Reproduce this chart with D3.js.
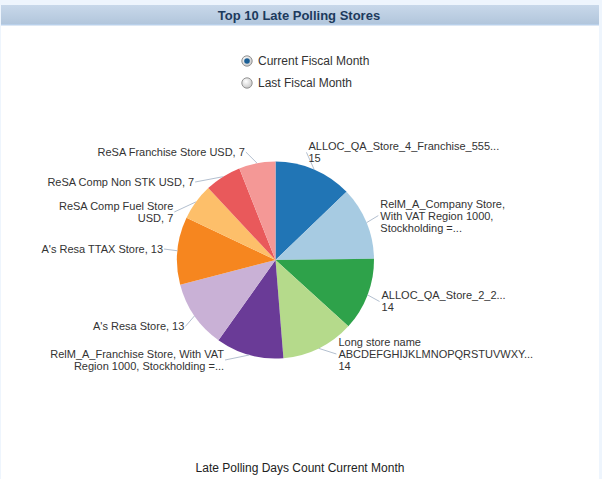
<!DOCTYPE html>
<html>
<head>
<meta charset="utf-8">
<script src="https://cdn.jsdelivr.net/npm/d3@7"></script>
<style>
  html, body { margin: 0; padding: 0; background: #eef5fd; }
  svg { display: block; }
  text { font-family: "Liberation Sans", Arial, sans-serif; }
</style>
</head>
<body>
<svg id="chart" width="602" height="479"></svg>
<script>
// ---- data ----
const titleText = "Top 10 Late Polling Stores";
const radioOptions = ["Current Fiscal Month", "Last Fiscal Month"];
const footerText = "Late Polling Days Count Current Month";
const storeLabels = [
  ["ALLOC_QA_Store_4_Franchise_555...", "15"],
  ["RelM_A_Company Store,", "With VAT Region 1000,", "Stockholding =..."],
  ["ALLOC_QA_Store_2_2...", "14"],
  ["Long store name", "ABCDEFGHIJKLMNOPQRSTUVWXY...", "14"],
  ["RelM_A_Franchise Store, With VAT", "Region 1000, Stockholding =..."],
  ["A's Resa Store, 13"],
  ["A's Resa TTAX Store, 13"],
  ["ReSA Comp Fuel Store", "USD, 7"],
  ["ReSA Comp Non STK USD, 7"],
  ["ReSA Franchise Store USD, 7"]
];
const storeValues = [15, 14, 14, 14, 13, 13, 13, 7, 7, 7];
const sliceColors = ["#2175b5", "#a7cbe2", "#2ea24a", "#b5da8b", "#6a3b97",
                     "#c9b1d6", "#f6861f", "#fdbf6a", "#e9595b", "#f49896"];

// ---- layout ----
const W = 602, H = 479;
const svg = d3.select("#chart");
const defs = svg.append("defs");

// panel
svg.append("rect").attr("x", 1).attr("y", 5).attr("width", 598).attr("height", H - 5).attr("fill", "#fff");
const grad = defs.append("linearGradient").attr("id", "hdr").attr("x1", 0).attr("y1", 0).attr("x2", 0).attr("y2", 1);
grad.append("stop").attr("offset", "0%").attr("stop-color", "#c8d8ea");
grad.append("stop").attr("offset", "100%").attr("stop-color", "#b2c6dc");
svg.append("rect").attr("x", 1).attr("y", 5).attr("width", 598).attr("height", 19).attr("fill", "url(#hdr)");
svg.append("rect").attr("x", 1).attr("y", 24).attr("width", 598).attr("height", 1.5).attr("fill", "#b9d0ea");
svg.append("text").attr("x", 299).attr("y", 15).attr("text-anchor", "middle").attr("dominant-baseline", "central")
  .attr("font-size", 13).attr("font-weight", "bold").attr("fill", "#1c3a5d").text(titleText);

// radio buttons
const rg = svg.append("g");
radioOptions.forEach((opt, i) => {
  const y = 61 + i * 22;
  const rgrad = defs.append("radialGradient").attr("id", "rb" + i).attr("cx", "40%").attr("cy", "35%").attr("r", "70%");
  rgrad.append("stop").attr("offset", "0%").attr("stop-color", "#ffffff");
  rgrad.append("stop").attr("offset", "100%").attr("stop-color", "#c4c4c4");
  rg.append("circle").attr("cx", 247).attr("cy", y).attr("r", 5.2).attr("fill", "url(#rb" + i + ")").attr("stroke", "#8a8a8a").attr("stroke-width", 0.9);
  if (i === 0) {
    rg.append("circle").attr("cx", 247).attr("cy", y).attr("r", 2.8).attr("fill", "#1b5f95");
  }
  rg.append("text").attr("x", 258).attr("y", y).attr("dominant-baseline", "central")
    .attr("font-size", 12).attr("fill", "#333").text(opt);
});

// pie
const cx = 275.5, cy = 260, R = 98.5;
const pie = d3.pie().sort(null).value(d => d)(storeValues);
const arc = d3.arc().innerRadius(0).outerRadius(R);
const g = svg.append("g").attr("transform", `translate(${cx},${cy})`);
g.selectAll("path.slice").data(pie).join("path").attr("class", "slice")
  .attr("d", arc).attr("fill", (d, i) => sliceColors[i]);

// labels: placed on a ring, spread vertically per side, clamped to bounds
const lineH = 12;
const ringY = 117, ringX = 112, yLimit = 108;
const topBound = 135 - cy, botBound = 372 - cy;
const items = pie.map((d, i) => {
  const a = (d.startAngle + d.endAngle) / 2;
  const lines = storeLabels[i];
  let y = -Math.cos(a) * ringY;
  y = Math.max(-yLimit, Math.min(yLimit, y));
  return {
    i, a, lines, y,
    right: Math.sin(a) >= 0,
    ex: Math.sin(a) * R, ey: -Math.cos(a) * R,
    h: lines.length * lineH
  };
});
const sep = (p, q) => Math.max(30, (p.h + q.h) / 2 + 8);
["right", "left"].forEach(side => {
  const arr = items.filter(d => (side === "right") === d.right).sort((p, q) => p.y - q.y);
  arr.forEach(d => { d.y = Math.max(topBound + d.h / 2, Math.min(botBound - d.h / 2, d.y)); });
  for (let k = 1; k < arr.length; k++) {
    const m = arr[k - 1].y + sep(arr[k - 1], arr[k]);
    if (arr[k].y < m) arr[k].y = m;
  }
  const last = arr[arr.length - 1];
  if (last.y > botBound - last.h / 2) last.y = botBound - last.h / 2;
  for (let k = arr.length - 2; k >= 0; k--) {
    const m = arr[k + 1].y - sep(arr[k], arr[k + 1]);
    if (arr[k].y > m) arr[k].y = m;
  }
});
items.forEach(d => {
  d.x = (d.right ? 1 : -1) * Math.sqrt(Math.max(0, ringX * ringX - d.y * d.y));
  const lg = g.append("g");
  lg.append("line").attr("x1", d.ex).attr("y1", d.ey).attr("x2", d.x).attr("y2", d.y)
    .attr("stroke", "#b3bfcf").attr("stroke-width", 1);
  const t = lg.append("text")
    .attr("text-anchor", d.right ? "start" : "end")
    .attr("font-size", 11).attr("fill", "#333");
  const x0 = d.x + (d.right ? 2 : -1);
  d.lines.forEach((ln, k) => {
    t.append("tspan").attr("x", x0)
      .attr("y", d.y - d.h / 2 + lineH * k + lineH / 2 + 4)
      .text(ln);
  });
});

// footer
svg.append("text").attr("x", 300).attr("y", 468).attr("text-anchor", "middle").attr("dominant-baseline", "central")
  .attr("font-size", 12).attr("fill", "#222").text(footerText);
</script>
</body>
</html>
